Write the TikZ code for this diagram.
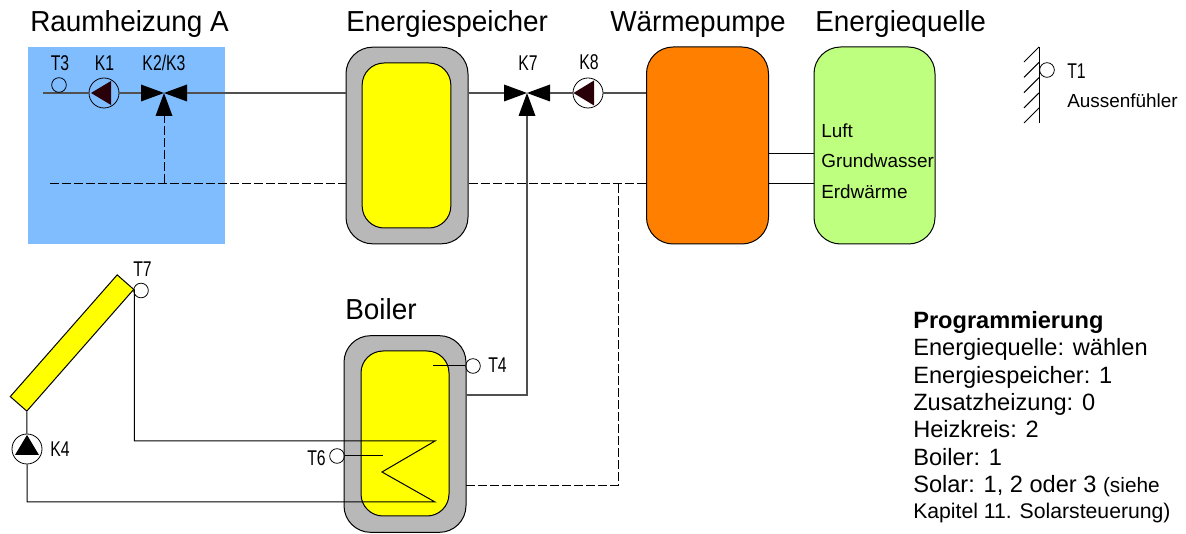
\documentclass[tikz,border=0pt]{standalone}
\usepackage{fontspec}
\setmainfont{Liberation Sans}
\newfontfamily\schmal[FakeStretch=0.74]{Liberation Sans}
\newfontfamily\titelschrift[FakeStretch=0.965]{Liberation Sans}
\definecolor{raumblau}{HTML}{80BDFF}
\definecolor{mantelgrau}{HTML}{B8B8B8}
\definecolor{wporange}{HTML}{FF8000}
\definecolor{quellgruen}{HTML}{BFFF80}
\definecolor{kerngelb}{HTML}{FFFF00}
\definecolor{pumpdunkel}{HTML}{2A0008}
\definecolor{rohrgrau}{HTML}{505050}
\newcommand{\ventil}[2]{%
  \coordinate (#2) at (#1);
  \path (#2) ++(-23,0) coordinate (#2w) ++(46,0) coordinate (#2o) ++(-23,23) coordinate (#2s);
  \fill (#2) -- ++(-23,-8.5) -- ++(0,17) -- cycle;
  \fill (#2) -- ++(23,-8.5) -- ++(0,17) -- cycle;
  \fill (#2) -- ++(-8.5,23) -- ++(17,0) -- cycle;}
\tikzset{
  titel/.style={anchor=base west,inner sep=0pt,font=\titelschrift\fontsize{21.7}{24}\selectfont},
  klein/.style={anchor=base,inner sep=0pt,font=\schmal\fontsize{16}{18}\selectfont},
  kleinl/.style={klein,anchor=base west},
  quelltext/.style={anchor=base west,inner sep=0pt,font=\fontsize{14.2}{16}\selectfont},
  mantel/.style={draw,fill=mantelgrau,line width=.75pt,rounded corners=20pt,minimum width=91.5pt,minimum height=147.5pt},
  kern/.style={draw,fill=kerngelb,line width=.75pt,rounded corners=16.5pt,minimum width=66.5pt,minimum height=123.75pt},
  block/.style={draw,line width=.75pt,rounded corners=20pt,minimum width=91.5pt,minimum height=147.75pt},
  pumpe/.style={circle,draw,line width=.6pt,inner sep=0pt,minimum size=22.5pt},
  fuehler/.style={circle,draw,line width=.6pt,inner sep=0pt,minimum size=11pt},
  rohr/.style={draw=rohrgrau,line width=1.1pt},
  duenn/.style={draw=black,line width=.75pt},
  steuer/.style={draw=black,line width=.7pt,dash pattern=on 6.75pt off 2.25pt},
}
\begin{document}
\begin{tikzpicture}[x=0.75pt,y=-0.75pt]
\useasboundingbox (0,0) rectangle (1186,534);
\node[fill=raumblau,inner sep=0pt,minimum width=147.75pt,minimum height=147.75pt] (raum) at (126.5,145.5) {};
\node[mantel] (speicher) at (407,145.5) {};
\node[kern] (speicherkern) at (406.5,145.5) {};
\node[mantel] (boiler) at (405,434) {};
\node[kern,minimum width=66pt] (boilerkern) at (405,433.5) {};
\node[block,fill=wporange] (wp) at (707.5,145.5) {};
\node[block,fill=quellgruen,minimum width=90.75pt] (quelle) at (874.5,145.5) {};
\node[draw,fill=kerngelb,line width=.75pt,inner sep=0pt,minimum width=121.5pt,minimum height=16.5pt,rotate=48.7] (kollektor) at (72,343) {};

\node[pumpe] (k1) at (104,93) {};
\node[pumpe] (k8) at (588,93) {};
\node[pumpe] (k4) at (27,449) {};
\fill[pumpdunkel] (91,93) -- (111,81) -- (111,105) -- cycle;
\fill[pumpdunkel] (573.5,93) -- (594,80.5) -- (594,105.5) -- cycle;
\fill[black] (27,435) -- (39,455) -- (15,455) -- cycle;
\ventil{164,93}{k2}
\ventil{527,93}{k7}

\coordinate (rohranfang) at (43,93);
\coordinate (steueranfang) at (50,183);
\coordinate (steuerknoten) at (164,183);
\coordinate (abzweig) at (618,183);
\coordinate (boilerrueck) at (466,485);
\coordinate (boilervor) at (466,395);
\coordinate (t4ende) at (433,366);
\coordinate (t6ende) at (383,456);
\coordinate (spiraloben) at (435,441);
\coordinate (spiralmitte) at (382,472);
\coordinate (spiralunten) at (435,502);
\coordinate (luftzeile) at (790,153.5);
\coordinate (erdzeile) at (790,183.5);

\draw[rohr] (rohranfang) -- (k1);
\draw[rohr] (k1) -- (k2w);
\draw[rohr] (k2o) -- (speicher.west |- k2);
\draw[rohr] (speicher.east |- k7) -- (k7w);
\draw[rohr] (k7o) -- (k8);
\draw[rohr] (k8) -- (wp.west |- k8);
\draw[rohr] (boilervor) -| (k7s);
\draw[steuer] (steueranfang) -- (speicher.west |- steueranfang);
\draw[steuer] (speicher.east |- steueranfang) -- (wp.west |- steueranfang);
\draw[steuer] (steuerknoten) -- (k2s);
\draw[steuer] (boilerrueck) -| (abzweig);
\draw[duenn] (wp.east |- luftzeile) -- (quelle.west |- luftzeile);
\draw[duenn] (wp.east |- erdzeile) -- (quelle.west |- erdzeile);
\draw[duenn] (kollektor.south east) |- (spiraloben) -- (spiralmitte) -- (spiralunten) -| (k4);
\draw[duenn] (kollektor.south west) -- (k4);

\node[fuehler] (t3) at (59,85) {};
\node[fuehler] (t7) at (141,290.5) {};
\node[fuehler] (t4) at (473,366) {};
\node[fuehler] (t6) at (337,456) {};
\node[fuehler] (t1) at (1047,70) {};
\draw[duenn] (t4) -- (t4ende);
\draw[duenn] (t6) -- (t6ende);
\draw[duenn] (1039,47) -- (1039,123);
\foreach \y in {47,62.3,77.6,92.9,108}
  \draw[duenn] (1039,\y) -- ++(-15,15);

\node[titel] (traum) at (30,32) {Raumheizung A};
\node[titel] (tspeicher) at (346,32) {Energiespeicher};
\node[titel] (twp) at (610,32) {Wärmepumpe};
\node[titel] (tquelle) at (815,32) {Energiequelle};
\node[titel] (tboiler) at (345,320) {Boiler};
\node[klein] (lt3) at (60,71) {T3};
\node[klein] (lk1) at (104.5,71) {K1};
\node[klein] (lk2) at (164,71) {K2/K3};
\node[klein] (lk7) at (528,71) {K7};
\node[klein] (lk8) at (589,70) {K8};
\node[klein] (lt7) at (142.5,277) {T7};
\node[kleinl] (lk4) at (50,457) {K4};
\node[kleinl] (lt4) at (488,373) {T4};
\node[kleinl] (lt6) at (307,466) {T6};
\node[kleinl] (lt1) at (1067,79) {T1};
\node[quelltext] (laussen) at (1067,108) {Aussenfühler};
\node[quelltext] (lluft) at (821,138) {Luft};
\node[quelltext] (lgrund) at (821,168) {Grundwasser};
\node[quelltext] (lerd) at (821,199) {Erdwärme};
\node[anchor=north west,align=left,inner sep=0pt,font=\fontsize{17.7}{20.5}\selectfont] (prog) at (913,311) {\textbf{Programmierung}\\Energiequelle: wählen\\Energiespeicher: 1\\Zusatzheizung: 0\\Heizkreis: 2\\Boiler: 1\\Solar: 1, 2 oder 3 {\fontsize{15.6}{20.5}\selectfont (siehe}\\[-1pt]{\fontsize{15.9}{20.5}\selectfont Kapitel 11. Solarsteuerung)}};
\end{tikzpicture}
\end{document}
